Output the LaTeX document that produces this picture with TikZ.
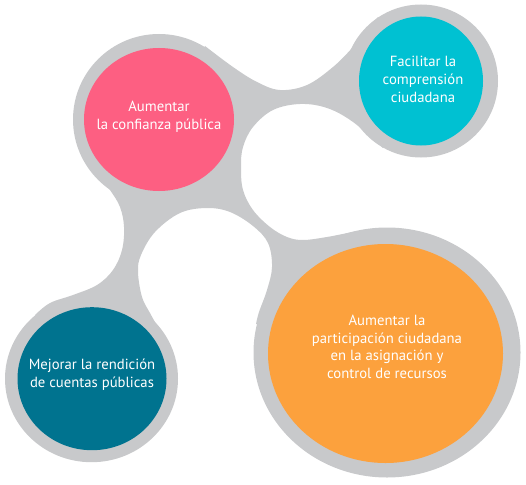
\documentclass[tikz,border=0pt]{standalone}
\usepackage{fontspec}
\setmainfont{PT Sans}
\usepackage{tikz}
\usetikzlibrary{shapes.geometric}
\definecolor{ringgray}{RGB}{200,201,203}
\definecolor{confpink}{RGB}{253,95,130}
\definecolor{compcyan}{RGB}{0,193,210}
\definecolor{rendteal}{RGB}{0,115,143}
\definecolor{partorange}{RGB}{252,161,61}
\tikzstyle{ring}=[ellipse,fill=ringgray,inner sep=0pt]
\tikzstyle{disk}=[ellipse,inner sep=0pt]
\tikzstyle{caption}=[text=white,align=center,font=\fontsize{14.7}{18}\selectfont]

\begin{document}
\begin{tikzpicture}[x=1pt,y=-1pt]
  \useasboundingbox (0,0) rectangle (526,484);

  % gray rings
  \node[ring,minimum width=172pt,minimum height=171pt] (confianzaR) at (159,119.5) {};
  \node[ring,minimum width=154pt,minimum height=153pt] (comprensionR) at (421,81) {};
  \node[ring,minimum width=173pt,minimum height=167pt] (rendicionR) at (91.5,378.7) {};
  \node[ring,minimum width=267pt,minimum height=250pt] (participacionR) at (387,352.5) {};

  % gray bridges between the rings
  \fill[ringgray] (confianzaR.center)
    -- plot[smooth,tension=0.6] coordinates {(205,46) (233,67) (257,82) (280,90) (307,85) (333,67) (353,47) (367,30) (378,17)}
    -- (comprensionR.center)
    -- plot[smooth,tension=0.6] coordinates {(383,148) (353,122) (327,108) (300,104) (273,110) (253,127) (243,147) (241,167) (243,190) (253,210) (270,227) (287,237) (303,240) (327,237) (353,232) (380,228)}
    -- (participacionR.center)
    -- plot[smooth,tension=0.6] coordinates {(256,324) (259,312) (267,290) (272,267) (268,243) (253,226) (230,212) (207,208) (180,213) (155,232) (141,255) (138,272) (142,297) (150,313) (158,327) (167,340) (172,350)}
    -- (rendicionR.center)
    -- plot[smooth,tension=0.6] coordinates {(35,315) (50,303) (73,295) (97,285) (113,270) (122,250) (124,227) (120,207) (110,190) (97,173) (86,162)}
    -- cycle;

  % coloured discs
  \node[disk,fill=confpink,minimum width=150pt,minimum height=143pt] (confianza) at (159,119.5) {};
  \node[disk,fill=compcyan,minimum width=124pt,minimum height=129pt] (comprension) at (421,81) {};
  \node[disk,fill=rendteal,minimum width=149pt,minimum height=143pt] (rendicion) at (92,378.7) {};
  \node[disk,fill=partorange,minimum width=235pt,minimum height=219pt] (participacion) at (385.5,353.5) {};

  % texts
  \node[caption] (confianzaT) at (159,116.3) {Aumentar\\la confianza pública};
  \node[caption] (comprensionT) at (423,79.6) {Facilitar la\\comprensión\\ciudadana};
  \node[caption] (rendicionT) at (92,374.8) {Mejorar la rendición\\de cuentas públicas};
  \node[caption,font=\fontsize{14.7}{17.5}\selectfont] (participacionT) at (387,346.9) {Aumentar la\\participación ciudadana\\en la asignación y\\control de recursos};
\end{tikzpicture}
\end{document}
